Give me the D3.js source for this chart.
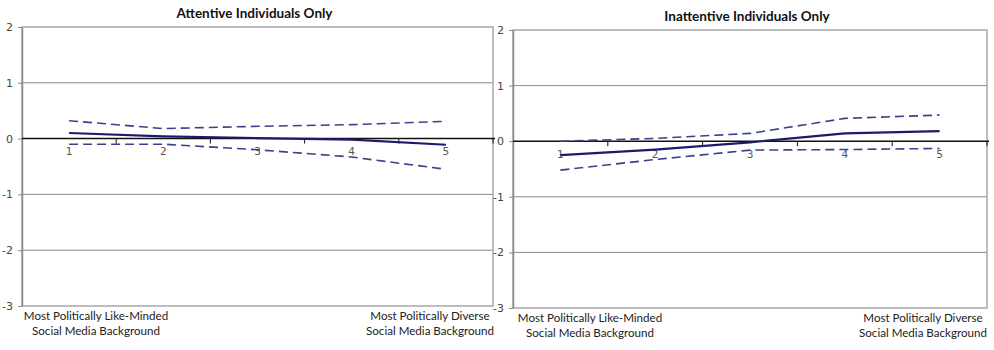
<!DOCTYPE html>
<html>
<head>
<meta charset="utf-8">
<script src="https://cdn.jsdelivr.net/npm/d3@7"></script>
<style>
  body { margin: 0; background: #fff; }
  svg { display: block; }
</style>
</head>
<body>
<div id="chart"></div>
<script>
// data
const categories = ['1', '2', '3', '4', '5'];
const yTicks = [-3, -2, -1, 0, 1, 2];

const attentiveEst = [0.10, 0.04, 0.01, -0.02, -0.11];
const attentiveUpper = [0.32, 0.18, 0.22, 0.25, 0.31];
const attentiveLower = [-0.10, -0.10, -0.20, -0.33, -0.55];

const inattentiveEst = [-0.25, -0.15, -0.02, 0.14, 0.18];
const inattentiveUpper = [0.00, 0.05, 0.14, 0.41, 0.47];
const inattentiveLower = [-0.52, -0.33, -0.16, -0.15, -0.13];

const panelTitles = ['Attentive Individuals Only', 'Inattentive Individuals Only'];
const leftLabel = ['Most Politically Like-Minded', 'Social Media Background'];
const rightLabel = ['Most Politically Diverse', 'Social Media Background'];

const svg = d3.select('#chart')
    .append('svg')
    .attr('width', 994)
    .attr('height', 350);

function drawPanel(box, title, est, upper, lower, labelX) {
    const x = d3.scaleBand()
        .domain(categories)
        .range([box.x0, box.x1]);

    const y = d3.scaleLinear()
        .domain([-3, 2])
        .range([box.y1, box.y0]);

    const g = svg.append('g');

    // gridlines
    g.selectAll('.grid')
        .data(yTicks.filter(d => d !== 0 && d !== 2 && d !== -3))
        .join('line')
        .attr('x1', box.x0).attr('x2', box.x1)
        .attr('y1', d => y(d)).attr('y2', d => y(d))
        .attr('stroke', '#8a8a8a')
        .attr('stroke-width', 1);

    // plot border
    g.append('rect')
        .attr('x', box.x0).attr('y', box.y0)
        .attr('width', box.x1 - box.x0).attr('height', box.y1 - box.y0)
        .attr('fill', 'none')
        .attr('stroke', '#a8a8a8')
        .attr('stroke-width', 1.5);

    // y axis
    const yAxis = g.append('g')
        .attr('transform', `translate(${box.x0},0)`)
        .call(d3.axisLeft(y).tickValues(yTicks).tickSize(4).tickSizeOuter(0).tickPadding(5)
            .tickFormat(d => String(d)));
    yAxis.select('.domain').attr('stroke', '#8a8a8a').attr('stroke-width', 1.5);
    yAxis.selectAll('.tick line').attr('stroke', '#8a8a8a');
    yAxis.selectAll('text')
        .attr('fill', '#444')
        .style('font-family', 'DejaVu Sans, Verdana, sans-serif')
        .style('font-size', '11px');

    // zero line with category ticks
    const y0 = y(0);
    g.append('line')
        .attr('x1', box.x0).attr('x2', box.x1 + 2)
        .attr('y1', y0).attr('y2', y0)
        .attr('stroke', '#111')
        .attr('stroke-width', 1.5);

    const bounds = categories.map(c => x(c)).concat([box.x1]);
    g.selectAll('.ctick')
        .data(bounds.slice(1))
        .join('line')
        .attr('x1', d => d).attr('x2', d => d)
        .attr('y1', y0).attr('y2', y0 + 5)
        .attr('stroke', '#111')
        .attr('stroke-width', 1);

    const xAxis = g.append('g')
        .attr('transform', `translate(0,${y0})`)
        .call(d3.axisBottom(x).tickSize(0).tickPadding(9));
    xAxis.select('.domain').remove();
    xAxis.selectAll('text')
        .attr('fill', '#555')
        .style('font-family', 'DejaVu Sans, Verdana, sans-serif')
        .style('font-size', '10.5px');

    // estimate and confidence bounds
    const line = d3.line()
        .x((d, i) => x(categories[i]) + x.bandwidth() / 2)
        .y(d => y(d));

    [upper, lower].forEach(s => {
        g.append('path')
            .datum(s)
            .attr('fill', 'none')
            .attr('stroke', '#3e3e8e')
            .attr('stroke-width', 1.6)
            .attr('stroke-dasharray', '9,5')
            .attr('d', line);
    });

    g.append('path')
        .datum(est)
        .attr('fill', 'none')
        .attr('stroke', '#1b1b6e')
        .attr('stroke-width', 2.2)
        .attr('d', line);

    // title
    g.append('text')
        .attr('x', (box.x0 + box.x1) / 2 - 3)
        .attr('y', box.y0 - 9)
        .attr('text-anchor', 'middle')
        .style('font-family', 'Lato, "Open Sans", sans-serif')
        .style('font-weight', 'bold')
        .style('font-size', '13.5px')
        .attr('fill', '#111')
        .text(title);

    // bottom end labels
    [[leftLabel, labelX[0]], [rightLabel, labelX[1]]].forEach(([lines, cx]) => {
        const t = g.append('text')
            .attr('text-anchor', 'middle')
            .style('font-family', 'Lato, "Open Sans", sans-serif')
            .style('font-size', '11.6px')
            .attr('fill', '#222');
        lines.forEach((s, i) => {
            t.append('tspan')
                .attr('x', cx)
                .attr('y', box.y1 + 14 + i * 15)
                .text(s);
        });
    });
}

drawPanel({ x0: 22, x1: 493, y0: 27, y1: 306 }, panelTitles[0],
    attentiveEst, attentiveUpper, attentiveLower, [96, 430]);
drawPanel({ x0: 513, x1: 987, y0: 30, y1: 308 }, panelTitles[1],
    inattentiveEst, inattentiveUpper, inattentiveLower, [590, 923]);
</script>
</body>
</html>
